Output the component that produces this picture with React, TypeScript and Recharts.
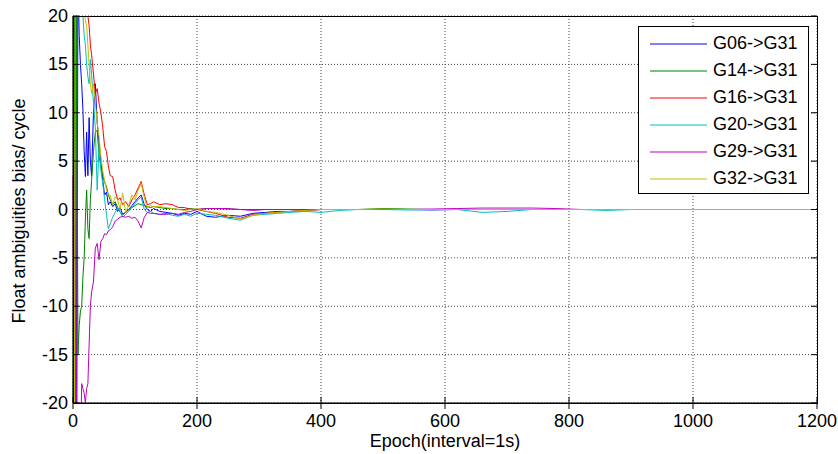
import React from "react"
import { LineChart, Line, XAxis, YAxis, CartesianGrid, Legend, ReferenceLine } from "recharts"

// epochs sampled from the plot (denser where the curves move a lot)
const epochs = [
  0, 2, 4, 6, 8, 10, 12, 14, 16, 18, 20, 22, 24, 26, 28, 30,
  33, 36, 39, 42, 45, 48, 51, 54, 57, 60,
  64, 68, 72, 76, 80,
  85, 90, 95, 100, 105, 110, 115, 120, 125, 130,
  140, 150, 160, 170, 180, 190, 200,
  215, 230, 250, 270, 290, 310, 330, 350, 375, 400,
  430, 460, 500, 540, 580, 620, 660, 700, 740, 780, 820, 860, 900,
  950, 1000, 1050, 1100, 1150, 1200,
]

const g06 = [
  30, -25, 28, -22, 24, 18, 15, 13, 10.3, 6, 3.4, 8, 3.5, 9.5, 5, 3.5,
  10, 13, 9, 7, 5, 3, 1.5, 1.8, 0.5, 0.8,
  0.3, 0.6, -0.2, 0.2, -0.5,
  -0.3, 0, 0.4, 0.8, 1.2, 1.5, 0.5, 0, -0.2, 0.1,
  -0.2, -0.3, -0.4, -0.6, -0.4, -0.5, -0.2,
  -0.7, -0.8, -0.6, -0.7, -0.4, -0.3, -0.2, -0.2, -0.1, 0,
  0, 0, 0, 0, -0.05, 0, 0, 0, 0, 0, 0, 0, 0,
  0, 0, 0, 0, 0, 0,
]

const g14 = [
  -25, 25, -30, 20, -15, -12, -10.5, -10, -7, -5, -1, 2, -2, -3, 1, 3,
  6, 8, 8.2, 5.5, 4.5, 3.5, 2.8, 2.4, 1.5, 1,
  0.5, 0.8, 0.2, -0.3, -0.5,
  -0.3, 0, 0.2, 0.4, 0.6, 0.5, 0.4, 0.3, 0.2, 0.3,
  0.2, 0.1, 0.1, 0, 0, 0.1, 0,
  0.1, 0.1, 0.05, 0, 0, 0, 0, 0, 0, 0,
  0, 0, 0.1, 0.05, 0, 0, 0, 0, 0, 0, 0, 0, 0,
  0, 0, 0, 0, 0, 0,
]

const g16 = [
  30, 35, 30, 28, 27, 26, 25, 24, 23, 22, 21, 21, 20, 19, 17, 16,
  14, 12, 12.5, 11, 10, 8.5, 6.5, 6, 4.5, 3.5,
  3.4, 2, 1, 1.2, 0.5,
  0.8, 0.3, 1, 1.5, 2.2, 2.9, 1.5, 0.5, 0.6, 0.8,
  0.5, 0.6, 0.5, 0.2, 0.2, 0, 0,
  -0.2, -0.4, -0.8, -0.9, -0.5, -0.4, -0.3, -0.2, -0.1, 0,
  0, 0, 0, 0, 0, 0, 0, 0, 0, 0, 0, 0, 0,
  0, 0, 0, 0, 0, 0,
]

const g20 = [
  20, 35, 30, 25, 28, 24, 22, 21, 20, 18, 17, 15, 13.7, 13, 15.5, 14,
  11, 8.5, 2, 6.5, 4, 2.7, 1, -0.5, -2, -1.5,
  -0.8, -0.3, 0.2, -0.2, -0.8,
  -0.5, -0.2, 0.3, 0.6, 1, 1.3, 0, -0.3, -0.2, -0.4,
  -0.5, -0.4, -0.6, -0.7, -0.5, -0.7, -0.4,
  -0.5, -0.6, -0.9, -1.1, -0.6, -0.5, -0.4, -0.3, -0.2, -0.3,
  -0.1, 0, 0, -0.05, 0, 0, -0.3, -0.2, 0, 0, 0, -0.1, 0,
  0, 0, 0, 0, 0, 0,
]

const g29 = [
  3.5, -30, 10, -30, -25, -20, -25, -18, -18.5, -19, -20, -18.5, -18, -14, -10, -8.5,
  -7.5, -4, -3.5, -5.2, -3.3, -3, -2.5, -2.6, -2.2, -2.1,
  -1.8, -1.2, -1, -0.8, -0.7,
  -0.8, -0.7, -0.9, -0.8, -1.2, -1.9, -0.8, -0.3, -0.4, -0.4,
  -0.5, -0.5, -0.4, -0.5, -0.3, -0.2, 0,
  0.1, 0.1, 0.1, 0, -0.1, 0, 0, 0, 0, 0,
  0, 0, 0, 0, 0.05, 0.1, 0.15, 0.15, 0.15, 0.1, 0, 0, 0,
  0, 0, 0, 0, 0, 0,
]

const g32 = [
  30, -30, 30, 25, 22, 20, 21, 25, 22, 20.5, 19.5, 19, 17, 15, 13, 12,
  13, 11, 9, 7.5, 5.5, 4, 3, 2, 1.5, 1.5,
  0.5, 1.3, 1, 0, 1.7,
  -0.3, 0.5, 1.5, 1, 2, 2.7, 1.2, 0.2, 0.4, 0.3,
  0.3, 0.2, 0.1, 0, -0.1, 0, 0.1,
  -0.2, -0.3, -0.6, -1.0, -0.6, -0.4, -0.3, -0.2, -0.1, 0,
  0, 0, 0.05, 0, 0, 0, 0, 0, 0, 0, 0, 0, 0,
  0, 0, 0, 0, 0, 0,
]

const xTicks = [0, 200, 400, 600, 800, 1000, 1200]
const yTicks = [-20, -15, -10, -5, 0, 5, 10, 15, 20]

const series = [
  { key: "g06", name: "G06->G31", color: "#0000FF" },
  { key: "g14", name: "G14->G31", color: "#008000" },
  { key: "g16", name: "G16->G31", color: "#FF0000" },
  { key: "g20", name: "G20->G31", color: "#00BFBF" },
  { key: "g29", name: "G29->G31", color: "#BF00BF" },
  { key: "g32", name: "G32->G31", color: "#BFBF00" },
]

const data = epochs.map((epoch, i) => ({
  epoch,
  g06: g06[i], g14: g14[i], g16: g16[i], g20: g20[i], g29: g29[i], g32: g32[i],
}))

const font = "Arial, 'Liberation Sans', sans-serif"
const fontSize = 18

// matlab style: ticks point into the axes box
const BottomTick = (props: any) => {
  const { x, y, payload } = props
  return (
    <g>
      <line x1={x} y1={y} x2={x} y2={y - 6} stroke="#000" />
      <text x={x} y={y + 24} textAnchor="middle" fontFamily={font} fontSize={fontSize} fill="#000">{payload.value}</text>
    </g>
  )
}

const LeftTick = (props: any) => {
  const { x, y, payload } = props
  return (
    <g>
      <line x1={x} y1={y} x2={x + 6} y2={y} stroke="#000" />
      <text x={x - 5} y={y + 6} textAnchor="end" fontFamily={font} fontSize={fontSize} fill="#000">{payload.value}</text>
    </g>
  )
}

// short inward tick on the top / right frame edge
const TopTickMark = (props: any) => <line x1={props.x1} y1={props.y1} x2={props.x1} y2={props.y1 + 6} stroke="#000" />
const RightTickMark = (props: any) => <line x1={props.x2} y1={props.y1} x2={props.x2 - 6} y2={props.y1} stroke="#000" />

const LegendBox = () => (
  <div style={{ boxSizing: "border-box", width: 171, height: 168, border: "1px solid #000", background: "#fff", paddingTop: 3 }}>
    {series.map((s) => (
      <div key={s.key} style={{ display: "flex", alignItems: "center", height: 27 }}>
        <svg width={57} height={4} style={{ marginLeft: 11, display: "block" }}>
          <line x1={0} y1={2} x2={57} y2={2} stroke={s.color} strokeWidth={1.2} />
        </svg>
        <span style={{ marginLeft: 6, fontFamily: font, fontSize, color: "#000" }}>{s.name}</span>
      </div>
    ))}
  </div>
)

export default function App() {
  return (
    <div style={{ position: "absolute", left: 0, top: 0, width: 838, height: 454, background: "#fff" }}>
      <LineChart width={838} height={454} data={data} margin={{ top: 16, right: 21, bottom: 0, left: 0 }}>
        <CartesianGrid stroke="#444" strokeDasharray="1 2" />
        <XAxis
          dataKey="epoch" type="number" domain={[0, 1200]} ticks={xTicks} height={51}
          tickLine={false} tickSize={0} tickMargin={0} tick={<BottomTick />}
          axisLine={{ stroke: "#000" }}
          label={{
            content: () => (
              <text x={445} y={447} textAnchor="middle" fontFamily={font} fontSize={fontSize} fill="#000">Epoch(interval=1s)</text>
            ),
          }}
        />
        <YAxis
          type="number" domain={[-20, 20]} ticks={yTicks} width={73} allowDataOverflow
          tickLine={false} tickSize={0} tickMargin={0} tick={<LeftTick />}
          axisLine={{ stroke: "#000" }}
          label={{
            content: () => (
              <text x={25} y={211} transform="rotate(-90 25 211)" textAnchor="middle" fontFamily={font} fontSize={fontSize} fill="#000">
                Float ambiguities bias/ cycle
              </text>
            ),
          }}
        />
        {series.map((s) => (
          <Line
            key={s.key} type="linear" dataKey={s.key} name={s.name} stroke={s.color}
            strokeWidth={1} dot={false} activeDot={false} isAnimationActive={false}
          />
        ))}
        {xTicks.map((t) => (
          <ReferenceLine key={"tx" + t} x={t} ifOverflow="visible" shape={<TopTickMark />} />
        ))}
        {yTicks.map((t) => (
          <ReferenceLine key={"ty" + t} y={t} ifOverflow="visible" shape={<RightTickMark />} />
        ))}
        <Legend
          layout="vertical" align="center" verticalAlign="middle"
          wrapperStyle={{ left: 638, top: 26, width: 171, height: 168 }}
          content={() => <LegendBox />}
        />
      </LineChart>
      {/* axes box outline */}
      <div
        style={{
          position: "absolute", left: 73, top: 16, width: 745, height: 388,
          boxSizing: "border-box", border: "1px solid #000", pointerEvents: "none", zIndex: 10,
        }}
      />
    </div>
  )
}
